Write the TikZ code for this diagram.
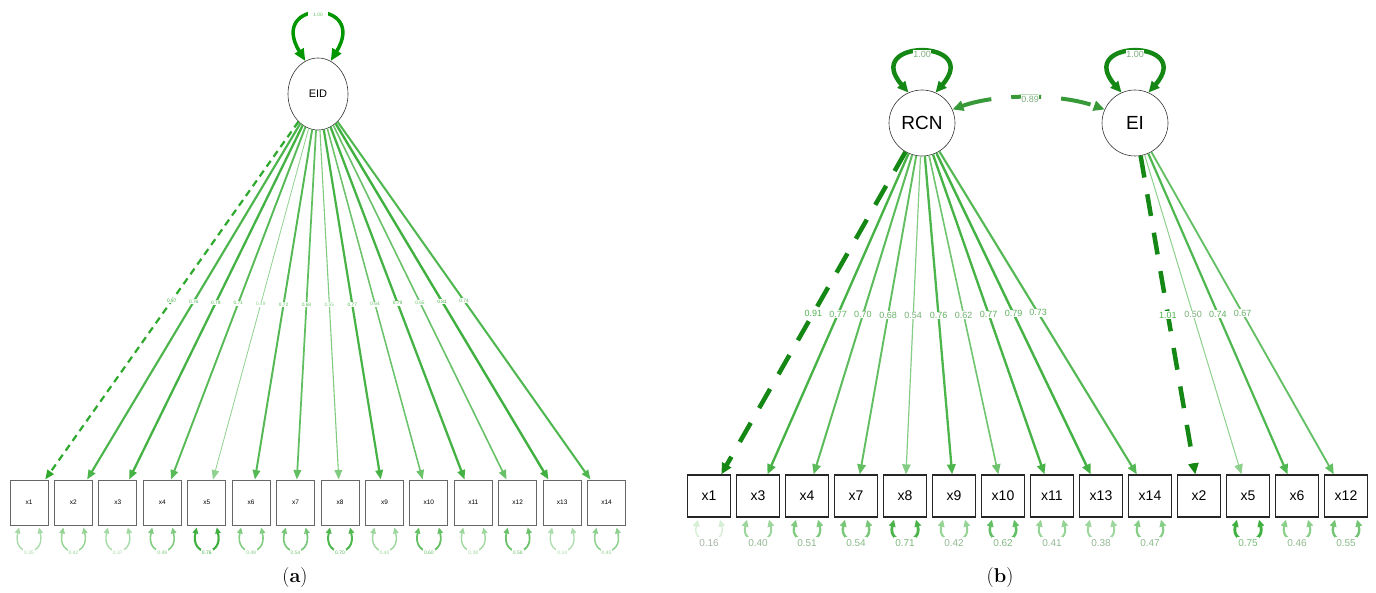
\documentclass[tikz,border=0pt]{standalone}
\usepackage{fontspec}
\newfontfamily\dgm{Liberation Sans}
\usetikzlibrary{arrows.meta,shapes.geometric}
\definecolor{qg}{RGB}{0,150,0}
\definecolor{qgd}{RGB}{20,135,20}
\begin{document}
\begin{tikzpicture}[x=1pt,y=-1pt,
  lat/.style={draw=black!80, line width=0.6pt, inner sep=0pt},
  boxa/.style={draw=black!60, line width=0.9pt, minimum width=38pt, minimum height=45pt, inner sep=0pt, font=\dgm\fontsize{6.5}{7}\selectfont},
  boxb/.style={draw=black!85, line width=1.3pt, minimum width=43pt, minimum height=42pt, inner sep=0pt, font=\dgm\fontsize{14}{16}\selectfont},
  loada/.style={arrows={-Triangle[length=9.5pt,width=7.5pt]}},
  loadb/.style={arrows={-Triangle[length=10pt,width=8.5pt]}},
  loadbd/.style={arrows={-Triangle[length=11pt,width=10pt]}, draw=qgd, line width=4.5pt, dash pattern=on 22pt off 17pt},
  resa/.style={arrows={Triangle[length=6pt,width=5.5pt]-Triangle[length=6pt,width=5.5pt]}},
  resb/.style={arrows={Triangle[length=7pt,width=6.5pt]-Triangle[length=7pt,width=6.5pt]}},
  vara/.style={arrows={Triangle[length=12pt,width=10pt]-Triangle[length=12pt,width=10pt]}, draw=qg, line width=3.5pt},
  varb/.style={arrows={Triangle[length=11pt,width=10pt]-Triangle[length=11pt,width=10pt]}, draw=qgd, line width=4.5pt},
  lbla/.style={fill=white, inner sep=0.8pt, font=\dgm\fontsize{4.8}{5}\selectfont},
  lblb/.style={fill=white, inner sep=0.5pt, font=\dgm\fontsize{9}{10}\selectfont},
  rlbla/.style={fill=white, inner xsep=1pt, inner ysep=2pt, font=\dgm\fontsize{5}{6}\selectfont},
  rlblb/.style={fill=white, inner xsep=1pt, inner ysep=2.5pt, font=\dgm\fontsize{10}{11}\selectfont},
  capt/.style={inner sep=0pt, font=\fontsize{20}{24}\selectfont},
]
\useasboundingbox (0,0) rectangle (1376,593);

% ---------- (a) one-factor model ----------
\node[lat, ellipse, minimum width=60pt, minimum height=72pt, font=\dgm\fontsize{11}{12}\selectfont] (eid) at (318,94) {EID};
\foreach \i in {1,...,14}
  \node[boxa] (a\i) at ({29+44.43*(\i-1)},502.5) {x\i};

% variance of the factor
\draw[vara] (eid.111) .. controls +(-38,-62) and +(38,-62) .. (eid.69);
\node[lbla, inner xsep=5pt, inner ysep=3pt, text=qg!60!white] (va) at (318,15) {1.00};

% loadings
\draw[loada, draw=qg!82!white, line width=2.2pt, dash pattern=on 7pt off 5pt]
  (eid) -- coordinate[pos=0.5] (ma1) (a1);
\foreach \i/\v in {2/0.76,3/0.79,4/0.71,5/0.49,6/0.72,7/0.68,8/0.55,9/0.77,10/0.64,11/0.79,12/0.65,13/0.81,14/0.74} {
  \pgfmathtruncatemacro\P{\v*100-5}
  \pgfmathsetmacro\W{max(0.8,0.6+5*(\v-0.45))}
  \draw[loada, draw=qg!\P!white, line width=\W pt] (eid) -- coordinate[pos=0.5] (ma\i) (a\i);
}
\foreach \i/\v in {1/0.87,2/0.76,3/0.79,4/0.71,5/0.49,6/0.72,7/0.68,8/0.55,9/0.77,10/0.64,11/0.79,12/0.65,13/0.81,14/0.74} {
  \pgfmathtruncatemacro\P{\v*100-5}
  \node[lbla, text=qg!\P!white] at (ma\i) {\v};
}

% residual variances
\foreach \i/\r in {1/0.35,2/0.42,3/0.37,4/0.49,5/0.76,6/0.49,7/0.54,8/0.70,9/0.40,10/0.60,11/0.38,12/0.58,13/0.34,14/0.45} {
  \pgfmathtruncatemacro\P{\r*100}
  \pgfmathsetmacro\W{0.6+2*\r}
  \draw[resa, draw=qg!\P!white, line width=\W pt]
    ([xshift=-10pt,yshift=-2pt]a\i.south) .. controls +(-7,30) and +(7,30) .. ([xshift=10pt,yshift=-2pt]a\i.south);
  \node[rlbla, text=qg!\P!white] at ([yshift=-27pt]a\i.south) {\r};
}

\node[capt] (capa) at (295,578) {(\textbf{a})};

% ---------- (b) two-factor model ----------
\node[lat, circle, minimum size=66pt, font=\dgm\fontsize{19}{20}\selectfont] (rcn) at (922,123) {RCN};
\node[lat, circle, minimum size=66pt, font=\dgm\fontsize{19}{20}\selectfont] (ei) at (1135,123) {EI};
\foreach \n [count=\k] in {1,3,4,7,8,9,10,11,13,14,2,5,6,12}
  \node[boxb] (b\n) at ({709+49*(\k-1)},496) {x\n};

% factor variances
\draw[varb] (rcn.114) .. controls +(-47,-54) and +(47,-54) .. (rcn.66);
\node[lblb, text=qg!45!gray!70!white] at (922,54) {1.00};
\draw[varb] (ei.114) .. controls +(-47,-54) and +(47,-54) .. (ei.66);
\node[lblb, text=qg!45!gray!70!white] at (1135,54) {1.00};

% factor covariance
\draw[arrows={Triangle[length=11pt,width=10pt]-Triangle[length=11pt,width=10pt]}, draw=qgd!85!white, line width=4pt, dash pattern=on 30pt off 20pt]
  (rcn.24) .. controls +(45,-16) and +(-45,-16) .. (ei.156);
\node[lblb, text=qg!45!gray!70!white] at (1030,99) {0.89};

% loadings
\draw[loadbd] (rcn) -- coordinate[pos=0.5] (mb1) (b1);
\foreach \n/\v in {3/0.77,4/0.70,7/0.68,8/0.54,9/0.76,10/0.62,11/0.77,13/0.79,14/0.73} {
  \pgfmathtruncatemacro\P{\v*100-5}
  \pgfmathsetmacro\W{max(1,0.5+5*(\v-0.4))}
  \draw[loadb, draw=qg!\P!white, line width=\W pt] (rcn) -- coordinate[pos=0.5] (mb\n) (b\n);
}
\draw[loadbd] (ei) -- coordinate[pos=0.5] (mb2) (b2);
\foreach \n/\v in {5/0.50,6/0.74,12/0.67} {
  \pgfmathtruncatemacro\P{\v*100-5}
  \pgfmathsetmacro\W{max(1,0.5+5*(\v-0.4))}
  \draw[loadb, draw=qg!\P!white, line width=\W pt] (ei) -- coordinate[pos=0.5] (mb\n) (b\n);
}
\foreach \n/\v in {1/0.91,3/0.77,4/0.70,7/0.68,8/0.54,9/0.76,10/0.62,11/0.77,13/0.79,14/0.73,2/1.01,5/0.50,6/0.74,12/0.67} {
  \pgfmathtruncatemacro\P{min(100,\v*100)}
  \node[lblb, text=qg!\P!gray!70!white] at (mb\n) {\v};
}

% residual variances
\foreach \n/\r in {1/0.16,3/0.40,4/0.51,7/0.54,8/0.71,9/0.42,10/0.62,11/0.41,13/0.38,14/0.47,5/0.75,6/0.46,12/0.55} {
  \pgfmathtruncatemacro\P{\r*100}
  \pgfmathsetmacro\W{1+2.5*\r}
  \draw[resb, draw=qg!\P!white, line width=\W pt]
    ([xshift=-11pt,yshift=-2pt]b\n.south) .. controls +(-7,26) and +(7,26) .. ([xshift=11pt,yshift=-2pt]b\n.south);
  \node[rlblb, text=qg!\P!gray!60!white] at ([yshift=-25pt]b\n.south) {\r};
}

\node[capt] (capb) at (1000,578) {(\textbf{b})};
\end{tikzpicture}
\end{document}
